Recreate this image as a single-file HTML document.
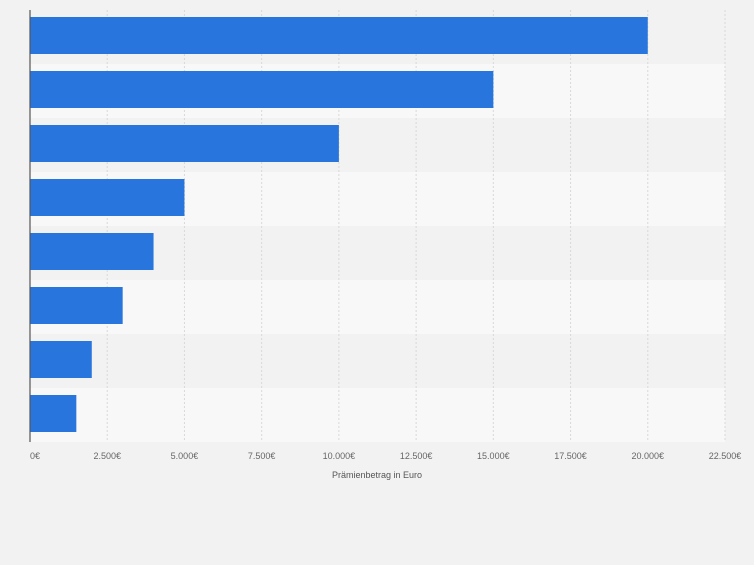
<!DOCTYPE html>
<html><head><meta charset="utf-8"><style>
body{margin:0;background:#f2f2f2;font-family:"Liberation Sans",sans-serif}
</style></head><body>
<svg width="754" height="560" id="c" xmlns="http://www.w3.org/2000/svg"></svg>
<script>
const categories=["A","B","C","D","E","F","G","H"];
const values=[20000,15000,10000,5000,4000,3000,2000,1500];
const ticks=[0,2500,5000,7500,10000,12500,15000,17500,20000,22500];
const tickLabels=["0€","2.500€","5.000€","7.500€","10.000€","12.500€","15.000€","17.500€","20.000€","22.500€"];
const svg=document.getElementById('c');const NS="http://www.w3.org/2000/svg";
const x0=30,x1=725,topY=10,rowH=54;
const xs=v=>x0+(x1-x0)*v/22500;
function mk(t,a){const e=document.createElementNS(NS,t);for(const k in a)e.setAttribute(k,a[k]);svg.appendChild(e);return e;}
categories.forEach((c,i)=>{
 const r=mk('rect',{x:x0,y:topY+i*rowH,width:x1-x0,height:rowH,fill:i%2?'#f8f8f8':'#f2f2f2'});
 
 
});
ticks.forEach((t,i)=>{
 if(i>0){const l=mk('line',{x1:xs(t),x2:xs(t),y1:topY,y2:topY+rowH*8,stroke:'#d8d8d8','stroke-dasharray':'2,2'});
 
 }
 const tx=mk('text',{x:xs(t)+(i==0?5:0),y:459,'font-size':9,fill:'#666','text-anchor':'middle'});
 tx.textContent=tickLabels[i];
 
 
});
values.forEach((v,i)=>{
 const b=mk('rect',{x:x0,y:topY+i*rowH+7,width:xs(v)-x0,height:37,fill:'#2876dd'});
 
 
});
const ax=mk('line',{x1:x0,x2:x0,y1:topY,y2:topY+rowH*8,stroke:'#555','stroke-width':1.2});


const tt=mk('text',{x:377,y:478,'font-size':9,fill:'#555','text-anchor':'middle'});
tt.textContent='Prämienbetrag in Euro';


</script>
</body></html>
